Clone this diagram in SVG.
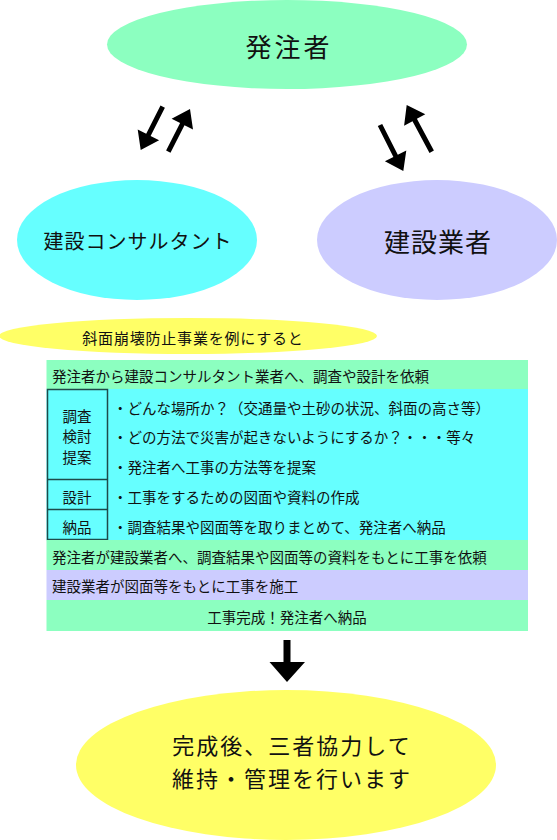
<svg xmlns="http://www.w3.org/2000/svg" width="557" height="840" viewBox="0 0 557 840">
<style>
text{font-family:"Noto Sans CJK JP","Noto Sans",sans-serif;fill:#111;dominant-baseline:central}
.row{font-size:14.5px}
.c{text-anchor:middle}
.green{fill:#8cffc0}
.cyan{fill:#66ffff}
.lav{fill:#ccccff}
.yel{fill:#ffff66}
.box{fill:none;stroke:#1e4a4a;stroke-width:1.5}
.arr{fill:#000}
</style>
<rect width="557" height="840" fill="#fff"/>
<g id="node-hacchusha">
<ellipse class="green" cx="287" cy="44.5" rx="180" ry="44.5"/>
<text class="c" x="289" y="45" font-size="26" letter-spacing="3">発注者</text>
</g>
<g id="node-consultant">
<ellipse class="cyan" cx="137" cy="240" rx="120" ry="60"/>
<text class="c" x="138" y="240" font-size="20" letter-spacing="1">建設コンサルタント</text>
</g>
<g id="node-gyosha">
<ellipse class="lav" cx="437" cy="240" rx="120" ry="60"/>
<text class="c" x="438" y="240" font-size="26" letter-spacing="1">建設業者</text>
</g>
<g id="connectors">
<polygon class="arr" points="160.5,105.6 146.2,133.8 137.7,129.5 140.7,150 159.1,140.3 150.6,136 164.9,107.8"/>
<polygon class="arr" points="170.5,152.8 184.5,125.2 193,129.5 190,109 171.6,118.7 180.1,123 166.1,150.6"/>
<polygon class="arr" points="377.8,126.1 393.4,156.9 384.9,161.2 403.3,171 406.3,150.4 397.8,154.7 382.2,123.9"/>
<polygon class="arr" points="433.9,150.5 416.9,118.8 425.3,114.3 406.7,105 404.1,125.7 412.5,121.2 429.5,152.9"/>
<polygon class="arr" points="283.5,640 290.5,640 290.5,662 305,662 287,682 269.5,662 283.5,662"/>
</g>
<g id="node-example">
<ellipse class="yel" cx="188" cy="336" rx="189" ry="18"/>
<text class="c" x="193" y="337" font-size="15" letter-spacing="0.8">斜面崩壊防止事業を例にすると</text>
</g>
<g id="node-table">
<rect class="green" x="46.5" y="360" width="481.5" height="29"/>
<text class="row" x="52" y="375">発注者から建設コンサルタント業者へ、調査や設計を依頼</text>
<rect class="cyan" x="46.5" y="389" width="481.5" height="151"/>
<rect class="box" x="47.5" y="389.5" width="60" height="150"/>
<line class="box" x1="47.5" y1="479.5" x2="107.5" y2="479.5"/>
<line class="box" x1="47.5" y1="509.5" x2="107.5" y2="509.5"/>
<text class="row c" x="77" y="415">調査</text>
<text class="row c" x="77" y="435.5">検討</text>
<text class="row c" x="77" y="456">提案</text>
<text class="row c" x="77" y="496">設計</text>
<text class="row c" x="77" y="526">納品</text>
<text class="row" x="113" y="407">・どんな場所か？（交通量や土砂の状況、斜面の高さ等）</text>
<text class="row" x="113" y="436">・どの方法で災害が起きないようにするか？・・・等々</text>
<text class="row" x="113" y="466">・発注者へ工事の方法等を提案</text>
<text class="row" x="113" y="496">・工事をするための図面や資料の作成</text>
<text class="row" x="113" y="526">・調査結果や図面等を取りまとめて、発注者へ納品</text>
<rect class="green" x="46.5" y="540" width="481.5" height="30"/>
<text class="row" x="52" y="556">発注者が建設業者へ、調査結果や図面等の資料をもとに工事を依頼</text>
<rect class="lav" x="46.5" y="570" width="481.5" height="30"/>
<text class="row" x="52" y="585">建設業者が図面等をもとに工事を施工</text>
<rect class="green" x="46.5" y="600" width="481.5" height="31"/>
<text class="row c" x="287" y="616">工事完成！発注者へ納品</text>
</g>
<g id="node-final">
<ellipse class="yel" cx="286" cy="765" rx="210" ry="75"/>
<text class="c" x="292" y="744" font-size="22" letter-spacing="2">完成後、三者協力して</text>
<text class="c" x="292" y="777" font-size="22" letter-spacing="2">維持・管理を行います</text>
</g>
</svg>
